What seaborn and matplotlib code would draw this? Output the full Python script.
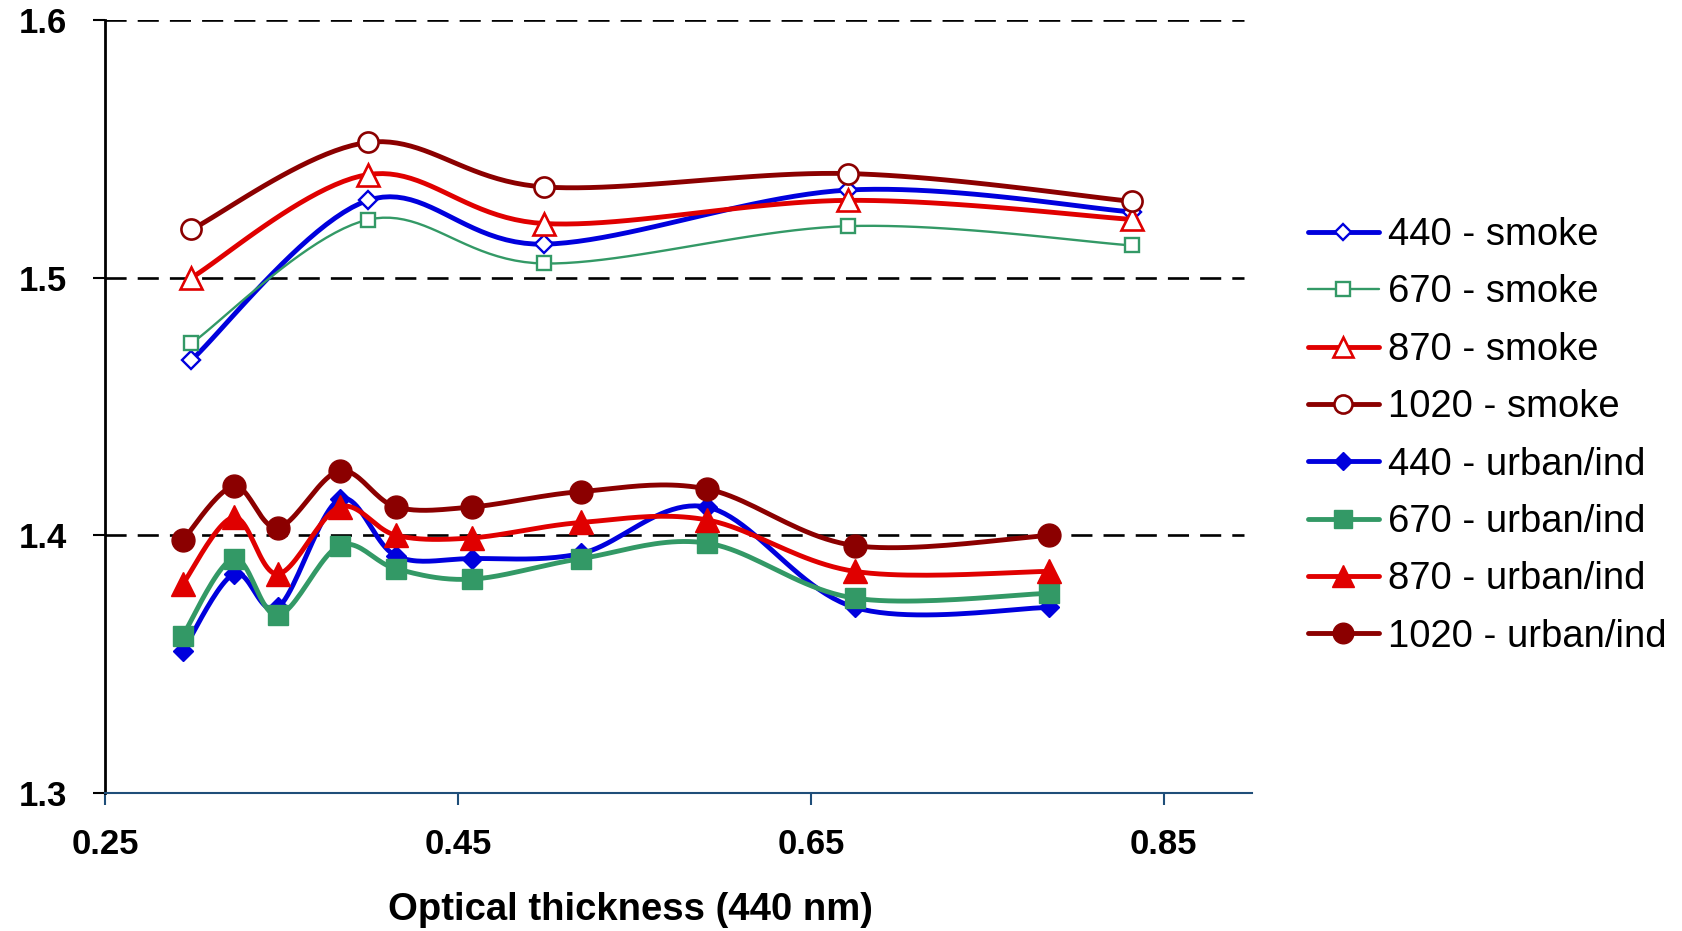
import numpy as np
import pandas as pd
import matplotlib
matplotlib.use("Agg")
import matplotlib.pyplot as plt
from matplotlib.lines import Line2D
import seaborn as sns

# ---------------- data ----------------
x_smoke = [0.299, 0.399, 0.499, 0.671, 0.832]
smoke_440 = [1.468, 1.530, 1.513, 1.534, 1.5255]
smoke_670 = [1.4745, 1.5225, 1.5055, 1.520, 1.5125]
smoke_870 = [1.500, 1.540, 1.521, 1.530, 1.5226]
smoke_1020 = [1.5187, 1.5525, 1.5352, 1.5404, 1.5296]

x_urban = [0.294, 0.323, 0.348, 0.383, 0.415, 0.458, 0.520, 0.591, 0.675, 0.785]
urban_440 = [1.355, 1.385, 1.372, 1.414, 1.392, 1.391, 1.393, 1.411, 1.372, 1.372]
urban_670 = [1.361, 1.391, 1.369, 1.396, 1.387, 1.383, 1.391, 1.397, 1.3756, 1.3775]
urban_870 = [1.381, 1.407, 1.385, 1.411, 1.400, 1.399, 1.405, 1.406, 1.386, 1.386]
urban_1020 = [1.398, 1.419, 1.403, 1.425, 1.411, 1.411, 1.417, 1.418, 1.396, 1.400]

labels = ["440 - smoke", "670 - smoke", "870 - smoke", "1020 - smoke",
          "440 - urban/ind", "670 - urban/ind", "870 - urban/ind", "1020 - urban/ind"]
x_ticks = [0.25, 0.45, 0.65, 0.85]
y_ticks = [1.3, 1.4, 1.5, 1.6]

# ---------------- styles ----------------
BLUE, GREEN, RED, DRED = "#0000DD", "#339966", "#E00000", "#8B0000"
series = [
    (x_smoke, smoke_440, BLUE, 3.5, "D", 9.0, "white", 1.7),
    (x_smoke, smoke_670, GREEN, 1.7, "s", 10.5, "white", 1.7),
    (x_smoke, smoke_870, RED, 3.5, "^", 16, "white", 1.9),
    (x_smoke, smoke_1020, DRED, 3.5, "o", 14.5, "white", 1.9),
    (x_urban, urban_440, BLUE, 3.5, "D", 10, BLUE, 1.0),
    (x_urban, urban_670, GREEN, 3.5, "s", 15, GREEN, 1.0),
    (x_urban, urban_870, RED, 3.5, "^", 17, RED, 1.0),
    (x_urban, urban_1020, DRED, 3.5, "o", 16.5, DRED, 1.0),
]


def smooth(xs, ys, n=24):
    """Catmull-Rom style Bezier smoothing (like a spreadsheet 'smoothed line')."""
    p = np.column_stack([xs, ys]).astype(float)
    out = [p[0]]
    m = len(p)
    for i in range(m - 1):
        p0 = p[i - 1] if i > 0 else p[i]
        p1, p2 = p[i], p[i + 1]
        p3 = p[i + 2] if i + 2 < m else p[i + 1]
        c1 = p1 + (p2 - p0) / 6.0
        c2 = p2 - (p3 - p1) / 6.0
        t = np.linspace(0, 1, n)[1:, None]
        seg = ((1 - t) ** 3) * p1 + 3 * ((1 - t) ** 2) * t * c1 + 3 * (1 - t) * t ** 2 * c2 + t ** 3 * p2
        out.extend(seg)
    out = np.array(out)
    return out[:, 0], out[:, 1]


sns.set_theme(style="white")
plt.rcParams["font.family"] = ["Liberation Sans", "DejaVu Sans"]
plt.rcParams["text.color"] = "black"
plt.rcParams["axes.labelcolor"] = "black"
plt.rcParams["xtick.color"] = "black"
plt.rcParams["ytick.color"] = "black"

fig = plt.figure(figsize=(16.83, 9.31), dpi=100)
ax = fig.add_axes([105 / 1683, 1 - 793 / 931, (1252 - 105) / 1683, (793 - 20) / 931])

handles = []
for k, (xs, ys, col, lw, mk, ms, mfc, mew) in enumerate(series):
    sx, sy = smooth(xs, ys)
    df = pd.DataFrame({"x": sx, "y": sy})
    sns.lineplot(data=df, x="x", y="y", sort=False, estimator=None, color=col,
                 linewidth=lw, ax=ax, zorder=3 + 2 * k)
    ax.plot(xs, ys, linestyle="none", marker=mk, markersize=ms, markerfacecolor=mfc,
            markeredgecolor=col, markeredgewidth=mew, zorder=4 + 2 * k)
    handles.append(Line2D([], [], color=col, linewidth=lw, marker=mk,
                          markersize=ms * 0.9, markerfacecolor=mfc,
                          markeredgecolor=col, markeredgewidth=mew))

ax.set_xlim(0.25, 0.90)
ax.set_ylim(1.3, 1.6)
ax.set_xticks(x_ticks)
ax.set_xticklabels([f"{v:.2f}" for v in x_ticks])
ax.set_yticks(y_ticks)
ax.set_yticklabels([f"{v:.1f}" for v in y_ticks])
for lab in ax.get_xticklabels() + ax.get_yticklabels():
    lab.set_fontweight("bold")
ax.tick_params(axis="x", direction="out", length=8.5, width=1.5, color="#1F4E79",
               labelcolor="black", labelsize=25, pad=17, bottom=True)
ax.tick_params(axis="y", direction="out", length=8.5, width=1.5, color="black",
               labelcolor="black", labelsize=25, pad=19, left=True)

ax.grid(False)
for yv in y_ticks[1:]:
    ax.axhline(yv, color="black", linewidth=1.9, linestyle=(0, (8, 4.2)), zorder=1,
               xmax=0.993)

for s in ["top", "right"]:
    ax.spines[s].set_visible(False)
ax.spines["left"].set_color("black")
ax.spines["left"].set_linewidth(2.0)
ax.spines["bottom"].set_color("#1F4E79")
ax.spines["bottom"].set_linewidth(1.5)

ax.set_xlabel("Optical thickness (440 nm)", fontsize=27.5, fontweight="bold", color="black")
ax.set_ylabel("")
ax.xaxis.set_label_coords(0.458, -0.128)

leg = fig.legend(handles, labels, loc="upper left", bbox_to_anchor=(1289 / 1683, 1 - 198 / 931),
                 frameon=False, fontsize=27.5, handlelength=1.85, handletextpad=0.25,
                 labelspacing=0.56, borderpad=0, numpoints=1, labelcolor="black")

fig.savefig("out.png", dpi=100, facecolor="white")
